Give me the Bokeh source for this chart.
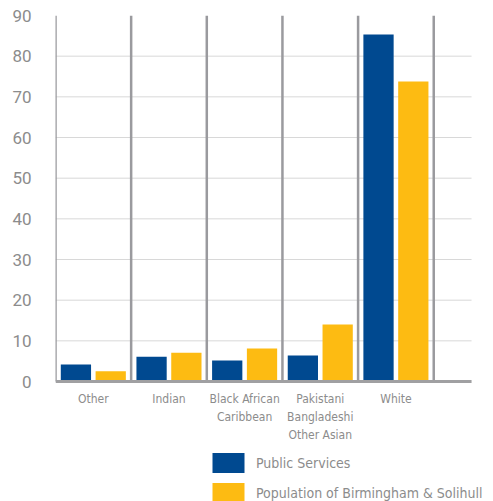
from bokeh.plotting import figure
from bokeh.models import ColumnDataSource, FixedTicker, Legend, LegendItem, Range1d
from bokeh.core.properties import value
from bokeh.transform import dodge
from bokeh.embed import file_html
from bokeh.resources import INLINE

categories = ["Other", "Indian", "Black African\nCaribbean", "Pakistani\nBangladeshi\nOther Asian", "White"]
public_services = [4.2, 6.1, 5.2, 6.4, 85.3]
population = [2.5, 7.1, 8.1, 14.0, 73.8]
y_ticks = [0, 10, 20, 30, 40, 50, 60, 70, 80, 90]
series_names = ["Public Services", "Population of Birmingham & Solihull"]

BLUE = "#004990"
YELLOW = "#FDBB12"
GRAY_TEXT = "#8c8c8c"
NARROW = "DejaVu Sans Condensed, Roboto, sans-serif"

xs = list(range(len(categories)))
src = ColumnDataSource(dict(x=xs, ps=public_services, pop=population, label=categories))
y_top = y_ticks[-1]
x_left, x_right = -0.5, len(xs)  # plotting area spans an extra half category

p = figure(width=493, height=501, output_backend="svg", toolbar_location=None,
           x_range=Range1d(x_left, x_right + 0.29), y_range=Range1d(-29.5, y_top),
           min_border_left=55, min_border_right=0, min_border_top=15, min_border_bottom=0)
p.outline_line_color = None

# y axis
p.yaxis.ticker = FixedTicker(ticks=y_ticks)
p.yaxis.axis_line_color = None
p.yaxis.major_tick_line_color = None
p.yaxis.minor_tick_line_color = None
p.yaxis.major_label_text_font = "Roboto"
p.yaxis.major_label_text_font_size = "17px"
p.yaxis.major_label_text_color = GRAY_TEXT
p.yaxis.major_label_standoff = 18
p.xaxis.visible = False
p.grid.visible = False

# horizontal grid lines
g = y_ticks[1:-1]
p.segment(x0=[x_left] * len(g), y0=g, x1=[x_right] * len(g), y1=g,
          line_color="#d8d8d8", line_width=1)

# category separators
seps = [i - 0.5 for i in xs] + [len(xs) - 0.5]
p.segment(x0=seps, y0=[0] * len(seps), x1=seps, y1=[y_top] * len(seps),
          line_color="#9a9a9e", line_width=2.5)

r1 = p.vbar(x=dodge("x", -0.23), top="ps", width=0.4, source=src, fill_color=BLUE, line_color=None)
r2 = p.vbar(x=dodge("x", 0.23), top="pop", width=0.4, source=src, fill_color=YELLOW, line_color=None)

# baseline axis line
p.segment(x0=[x_left], y0=[0], x1=[x_right], y1=[0], line_color="#a0a0a2", line_width=3)

# category labels
p.text(x="x", y=0, text="label", source=src, y_offset=10,
       text_align="center", text_baseline="top", text_line_height=1.3,
       text_font=value(NARROW), text_font_size="12px", text_color=GRAY_TEXT)

legend = Legend(items=[LegendItem(label=series_names[0], renderers=[r1]),
                       LegendItem(label=series_names[1], renderers=[r2])],
                location=(153, -4))
legend.border_line_color = None
legend.background_fill_alpha = 0
legend.padding = 0
legend.margin = 0
legend.spacing = 5
legend.glyph_width = 40
legend.glyph_height = 25
legend.label_height = 21
legend.label_standoff = 8
legend.label_text_font = NARROW
legend.label_text_font_size = "14px"
legend.label_text_color = GRAY_TEXT
p.add_layout(legend, "center")

open("out.html", "w").write(file_html(p, INLINE))
